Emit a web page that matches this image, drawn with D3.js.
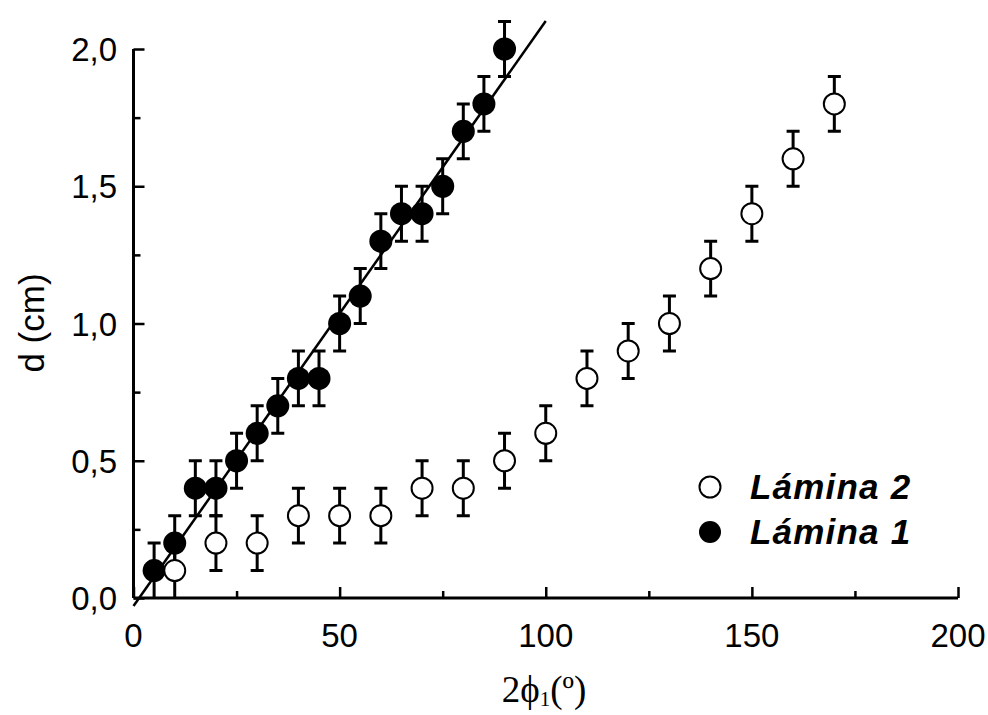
<!DOCTYPE html>
<html>
<head>
<meta charset="utf-8">
<script src="https://cdn.jsdelivr.net/npm/d3@7"></script>
<style>
body{margin:0;background:#fff;}
svg{display:block;}
</style>
</head>
<body>
<div id="chart"></div>
<script>
// data
var lamina1X=[5,10,15,20,25,30,35,40,45,50,55,60,65,70,75,80,85,90];
var lamina1Y=[0.1,0.2,0.4,0.4,0.5,0.6,0.7,0.8,0.8,1.0,1.1,1.3,1.4,1.4,1.5,1.7,1.8,2.0];
var lamina2X=[10,20,30,40,50,60,70,80,90,100,110,120,130,140,150,160,170];
var lamina2Y=[0.1,0.2,0.2,0.3,0.3,0.3,0.4,0.4,0.5,0.6,0.8,0.9,1.0,1.2,1.4,1.6,1.8];
var errBar=0.1;
var fitX=[0,100];
var fitSlope=0.02131, fitIntercept=-0.029;
var xTicks=[0,50,100,150,200];
var yTicks=[0,0.5,1.0,1.5,2.0];
var legendNames=["Lámina 2","Lámina 1"];

var W=988,H=715;
var svg=d3.select('#chart').append('svg').attr('width',W).attr('height',H);

var x=d3.scaleLinear().domain([0,200]).range([133.5,958]);
var y=d3.scaleLinear().domain([0,2]).range([598,49]);

function pts(xs,ys){return xs.map(function(v,i){return {x:v,y:ys[i]};});}
var s1=pts(lamina1X,lamina1Y), s2=pts(lamina2X,lamina2Y);

//---------------------axes---------------------
var xAxis=d3.axisBottom(x).tickValues(d3.range(0,201,25)).tickSize(-7).tickFormat('');
var gx=svg.append('g').attr('transform','translate(0,'+y(0)+')').call(xAxis);
var yAxis=d3.axisLeft(y).tickValues(d3.range(0,2.01,0.25)).tickSize(-7).tickFormat('');
var gy=svg.append('g').attr('transform','translate('+x(0)+',0)').call(yAxis);
[gx,gy].forEach(function(g){
	g.select('.domain').attr('stroke','#000').attr('stroke-width',3);
	g.selectAll('.tick line').attr('stroke','#000').attr('stroke-width',2.5);
});
// major ticks longer
gx.selectAll('.tick line').filter(function(d){return d%50===0;}).attr('y2',-11);
gy.selectAll('.tick line').filter(function(d){return Math.abs(d*2-Math.round(d*2))<1e-6;}).attr('x2',11);
gx.select('.domain').attr('d','M'+x(0)+',0H'+x(200));
gy.select('.domain').attr('d','M0,'+y(0)+'V'+y(2));

var sans='Liberation Sans, Arial, sans-serif';
svg.append('g').selectAll('text').data(xTicks).enter().append('text')
	.attr('x',function(d){return x(d);}).attr('y',647)
	.attr('text-anchor','middle')
	.attr('font-family',sans).attr('font-size',33)
	.text(function(d){return d;});
svg.append('g').selectAll('text').data(yTicks).enter().append('text')
	.attr('x',117).attr('y',function(d){return y(d)+12;})
	.attr('text-anchor','end')
	.attr('font-family',sans).attr('font-size',33)
	.text(function(d){return d.toFixed(1).replace('.',',');});

svg.append('text').attr('transform','translate(44,323) rotate(-90)')
	.attr('text-anchor','middle')
	.attr('font-family',sans).attr('font-size',35)
	.text('d (cm)');

var xl=svg.append('text').attr('x',544).attr('y',702).attr('text-anchor','middle')
	.attr('font-family','Liberation Serif, Times New Roman, serif').attr('font-size',37);
xl.append('tspan').text('2\u03d5');
xl.append('tspan').attr('font-size',21).attr('dy',4).text('1');
xl.append('tspan').attr('dy',-4).text('(\u00ba)');

//---------------------error bars---------------------
function bars(data){
	var g=svg.append('g').attr('stroke','#000').attr('stroke-width',3).attr('fill','none');
	g.selectAll('path').data(data).enter().append('path')
		.attr('d',function(d){
			var cx=x(d.x),t=y(d.y+errBar),b=y(Math.max(0,d.y-errBar));
			var p='M'+cx+','+t+'V'+b+'M'+(cx-6.5)+','+t+'H'+(cx+6.5);
			if(d.y-errBar>0.001)p+='M'+(cx-6.5)+','+b+'H'+(cx+6.5);
			return p;
		});
}
bars(s1);bars(s2);

//---------------------points---------------------
svg.append('g').selectAll('circle').data(s1).enter().append('circle')
	.attr('cx',function(d){return x(d.x);}).attr('cy',function(d){return y(d.y);})
	.attr('r',11.5).attr('fill','#000');
svg.append('g').selectAll('circle').data(s2).enter().append('circle')
	.attr('cx',function(d){return x(d.x);}).attr('cy',function(d){return y(d.y);})
	.attr('r',10.5).attr('fill','#fff').attr('stroke','#000').attr('stroke-width',2);

//---------------------fit line---------------------
svg.append('path').datum(fitX)
	.attr('d',d3.line().x(function(d){return x(d);}).y(function(d){return y(fitIntercept+fitSlope*d);}))
	.attr('stroke','#000').attr('stroke-width',2.5).attr('fill','none');

//---------------------legend---------------------
var lg=svg.append('g');
legendNames.forEach(function(n,i){
	var cy=487+i*45;
	lg.append('circle').attr('cx',710).attr('cy',cy).attr('r',i===0?10.5:11)
		.attr('fill',i===0?'#fff':'#000').attr('stroke','#000').attr('stroke-width',i===0?2:0);
	lg.append('text').attr('x',750).attr('y',cy+12)
		.attr('font-family',sans).attr('font-size',35).attr('letter-spacing',1.2)
		.attr('font-weight','bold').attr('font-style','italic').text(n);
});
</script>
</body>
</html>
